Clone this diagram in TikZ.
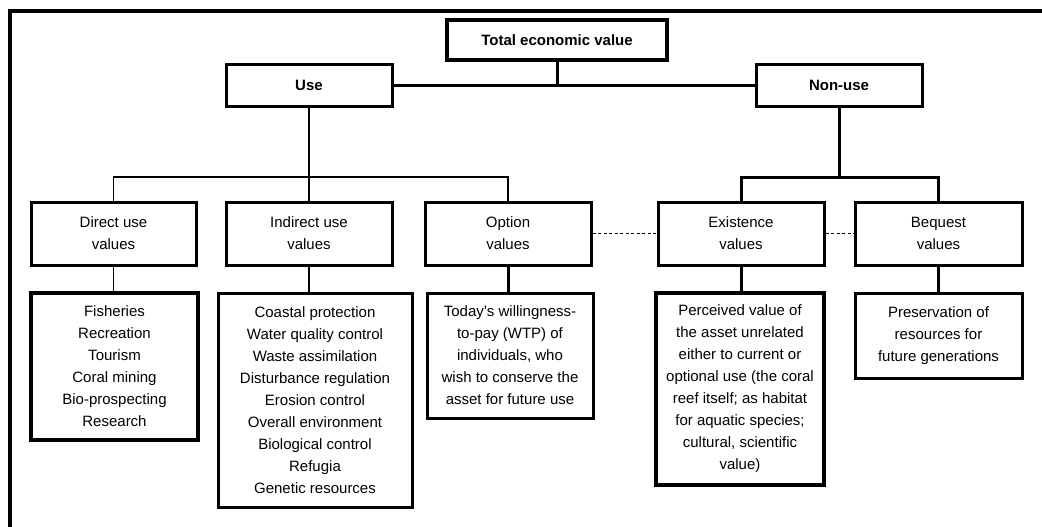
\documentclass[tikz,border=0pt]{standalone}
\usepackage{fontspec}
\setmainfont{Liberation Sans}
\begin{document}
\begin{tikzpicture}[x=1pt,y=-1pt,
  box/.style={draw=black,line width=3pt,rectangle,inner sep=0pt,align=center,
    font=\fontsize{15}{22}\selectfont},
  topbox/.style={box,font=\fontsize{15}{22}\selectfont\bfseries},
  thin/.style={line width=1.6pt},
  mid/.style={line width=2.3pt},
  thick/.style={line width=3pt},
  dots/.style={line width=1.5pt,dash pattern=on 3pt off 2.5pt}]
\fill[white] (0,0) rectangle (1042,527);
\useasboundingbox (0,0) rectangle (1042,527);
% frame (left and top edges)
\draw[line width=4pt] (10,527) -- (10,11) -- (1042,11);
% top level
\node[topbox,line width=4pt,minimum width=220pt,minimum height=40pt] (tev) at (557,40) {Total economic value};
\node[topbox,minimum width=166pt,minimum height=41pt] (use) at (309,85.5) {Use};
\node[topbox,minimum width=166pt,minimum height=41pt] (nonuse) at (839,85.5) {Non-use};
% second row
\node[box,minimum width=165pt,minimum height=63pt] (direct) at (113.5,233.5) {Direct use\\values};
\node[box,minimum width=166pt,minimum height=63pt] (indirect) at (309,233.5) {Indirect use\\values};
\node[box,minimum width=166pt,minimum height=63pt] (option) at (508,233.5) {Option\\values};
\node[box,minimum width=166pt,minimum height=63pt] (existence) at (741,233.5) {Existence\\values};
\node[box,minimum width=167pt,minimum height=63pt] (bequest) at (938.5,233.5) {Bequest\\values};
% third row
\node[box,line width=3.5pt,minimum width=167pt,minimum height=147pt] (directd) at (114.5,366.5)
  {Fisheries\\Recreation\\Tourism\\Coral mining\\Bio-prospecting\\Research};
\node[box,minimum width=194pt,minimum height=214pt] (indirectd) at (315,400)
  {Coastal protection\\Water quality control\\Waste assimilation\\Disturbance regulation\\Erosion control\\Overall environment\\Biological control\\Refugia\\Genetic resources};
\node[box,minimum width=166pt,minimum height=125pt] (optiond) at (510,355.5)
  {Today's willingness-\\to-pay (WTP) of\\individuals, who\\wish to conserve the\\asset for future use};
\node[box,line width=3.5pt,minimum width=168pt,minimum height=192pt] (existd) at (740,389)
  {Perceived value of\\the asset unrelated\\either to current or\\optional use (the coral\\reef itself; as habitat\\for aquatic species;\\cultural, scientific\\value)};
\node[box,minimum width=167pt,minimum height=85pt] (bequestd) at (938.5,335.5)
  {Preservation of\\resources for\\future generations};
% buses
\coordinate (ubus) at (309,177);
\coordinate (nbus) at (839,177);
% connectors
\draw[mid] (use.east) -- (nonuse.west);
\draw[thick] (tev.south) -- (tev.south |- use.east);
\draw[thin] (use.south) -- (ubus);
\draw[thin] (direct.north) |- (ubus) -| (option.north);
\draw[thin] (ubus) -- (indirect.north);
\draw[thick] (nonuse.south) -- (nbus);
\draw[thick] (existence.north) |- (nbus) -| (bequest.north);
\draw[dots] (option.east) -- (existence.west);
\draw[dots] (existence.east) -- (bequest.west);
\draw[thin] (direct.south) -- (direct.south |- directd.north);
\draw[thin] (indirect.south) -- (indirect.south |- indirectd.north);
\draw[thick] (option.south) -- (option.south |- optiond.north);
\draw[thick] (existence.south) -- (existence.south |- existd.north);
\draw[thick] (bequest.south) -- (bequest.south |- bequestd.north);
\end{tikzpicture}
\end{document}
